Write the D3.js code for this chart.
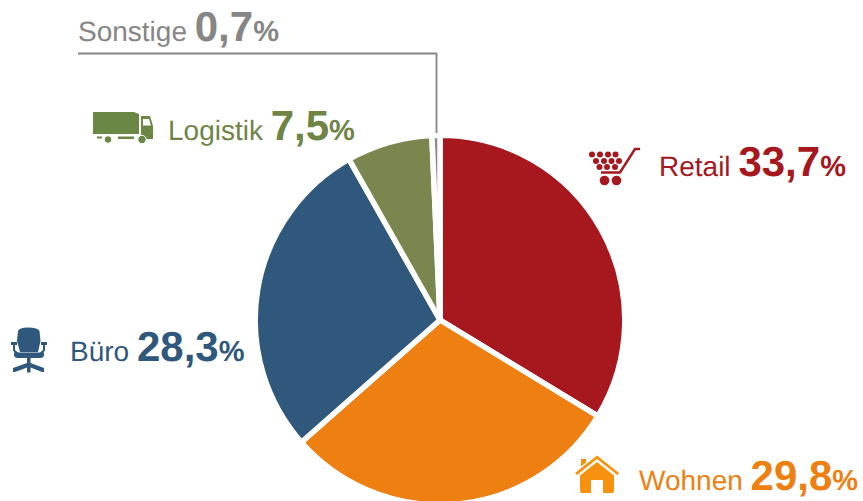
<!DOCTYPE html>
<html>
<head>
<meta charset="utf-8">
<script src="https://cdn.jsdelivr.net/npm/d3@7"></script>
<style>
  html, body { margin: 0; padding: 0; background: #fff; }
  svg { display: block; }
  text { font-family: "Liberation Sans", Arial, sans-serif; text-rendering: geometricPrecision; }
</style>
</head>
<body>
<div id="chart"></div>
<script>
// Values, clockwise from 12 o'clock
const categories = ['Retail', 'Wohnen', 'Büro', 'Logistik', 'Sonstige'];
const shares = [33.7, 29.8, 28.3, 7.5, 0.7];
const shareLabels = ['33,7', '29,8', '28,3', '7,5', '0,7'];
const sliceColors = ['#a6171e', '#ee7f11', '#2f587c', '#7a864d', '#8a8a8a'];
const textColors = ['#a6171e', '#ee7f11', '#2f587c', '#6f8445', '#868686'];

// Label anchor (x, baseline) per category
const labelX = [659, 639, 70, 168, 78];
const labelY = [176, 490, 361, 140, 41];

const width = 863;
const height = 501;
const centerX = 440;
const centerY = 320;
const radius = 184.8;

const svg = d3.select('#chart')
  .append('svg')
  .attr('width', width)
  .attr('height', height)
  .attr('viewBox', `0 0 ${width} ${height}`);

const pie = d3.pie().sort(null).value(d => d);
const arc = d3.arc().innerRadius(0).outerRadius(radius);

svg.append('g')
  .attr('transform', `translate(${centerX},${centerY})`)
  .selectAll('path')
  .data(pie(shares))
  .join('path')
  .attr('d', arc)
  .attr('fill', (d, i) => sliceColors[i])
  .attr('stroke', '#fff')
  .attr('stroke-width', 5.5)
  .attr('stroke-linejoin', 'round');

// Leader line for the thin Sonstige slice
svg.append('path')
  .attr('d', 'M78,53.5H436.5V133')
  .attr('fill', 'none')
  .attr('stroke', '#868686')
  .attr('stroke-width', 1.8);

// Labels
const labels = svg.append('g')
  .selectAll('text')
  .data(categories)
  .join('text')
  .attr('x', (d, i) => labelX[i])
  .attr('y', (d, i) => labelY[i])
  .attr('fill', (d, i) => textColors[i]);

labels.append('tspan')
  .attr('font-size', 28)
  .text(d => d + ' ');
labels.append('tspan')
  .attr('font-size', 42)
  .attr('font-weight', 'bold')
  .text((d, i) => shareLabels[i]);
labels.append('tspan')
  .attr('font-size', 29)
  .attr('font-weight', 'bold')
  .text('%');

// Icons
const cart = svg.append('g').attr('fill', textColors[0]);
const cartDots = [
  [592, 154.5], [600, 154.5], [608, 154.5], [615.5, 154.5],
  [596, 161], [604, 161], [611.5, 161], [619, 161],
  [599.5, 167], [607, 167], [615, 167]
];
cart.selectAll('circle.dot')
  .data(cartDots)
  .join('circle')
  .attr('class', 'dot')
  .attr('cx', d => d[0])
  .attr('cy', d => d[1])
  .attr('r', 3);
cart.append('circle').attr('cx', 604.5).attr('cy', 180.5).attr('r', 4.8);
cart.append('circle').attr('cx', 616.5).attr('cy', 180.5).attr('r', 4.8);
cart.append('path')
  .attr('d', 'M601,172.5H620L635,149H640')
  .attr('fill', 'none')
  .attr('stroke', textColors[0])
  .attr('stroke-width', 2.4);

const house = svg.append('g').attr('fill', '#f7920f');
house.append('path')
  .attr('d', 'M575,473L597,455.5L619,473L617.5,475L597,459L577,475Z');
house.append('path')
  .attr('d', 'M581,459H586V462.5L581,466.5Z');
house.append('path')
  .attr('d', 'M597,462L614,475.5V491a2,2 0 0 1 -2,2H603V480H591V493H582a2,2 0 0 1 -2,-2V475.5Z');

const chair = svg.append('g').attr('fill', textColors[2]);
chair.append('path')
  .attr('d', 'M18,331Q19,327.5 28,327.5Q38,327.5 39.5,331L40.5,341L38,352H20L17,341Z');
chair.append('path')
  .attr('d', 'M14,352.5H44V355Q44,358 40,358H18Q14,358 14,355Z');
chair.append('path')
  .attr('d', 'M27,358H30.5V363L44,368V372H42L30.5,367.5V372.5H27V367.5L15,372H13V368L27,363Z');
chair.append('path')
  .attr('d', 'M11,342H17V345H15V350L18.5,353H15L13,350.5V345H11Z');
chair.append('path')
  .attr('d', 'M41,342H47V345H45V350.5L43,353H39.5L43,350V345H41Z');

const truck = svg.append('g').attr('fill', '#6b8746');
truck.append('path')
  .attr('d', 'M93,112H134L139,114V134H93Z');
truck.append('path')
  .attr('fill-rule', 'evenodd')
  .attr('d', 'M141,116H150L153,126V139H141ZM143,119V125.5H151L149,119Z');
truck.append('rect').attr('x', 97).attr('y', 136.5).attr('width', 5).attr('height', 2);
truck.append('rect').attr('x', 118).attr('y', 136.5).attr('width', 16).attr('height', 2.5);
truck.append('circle').attr('cx', 108).attr('cy', 139.5).attr('r', 3.8).attr('stroke', '#fff');
truck.append('circle').attr('cx', 142).attr('cy', 139.5).attr('r', 4.2).attr('stroke', '#fff');
</script>
</body>
</html>
